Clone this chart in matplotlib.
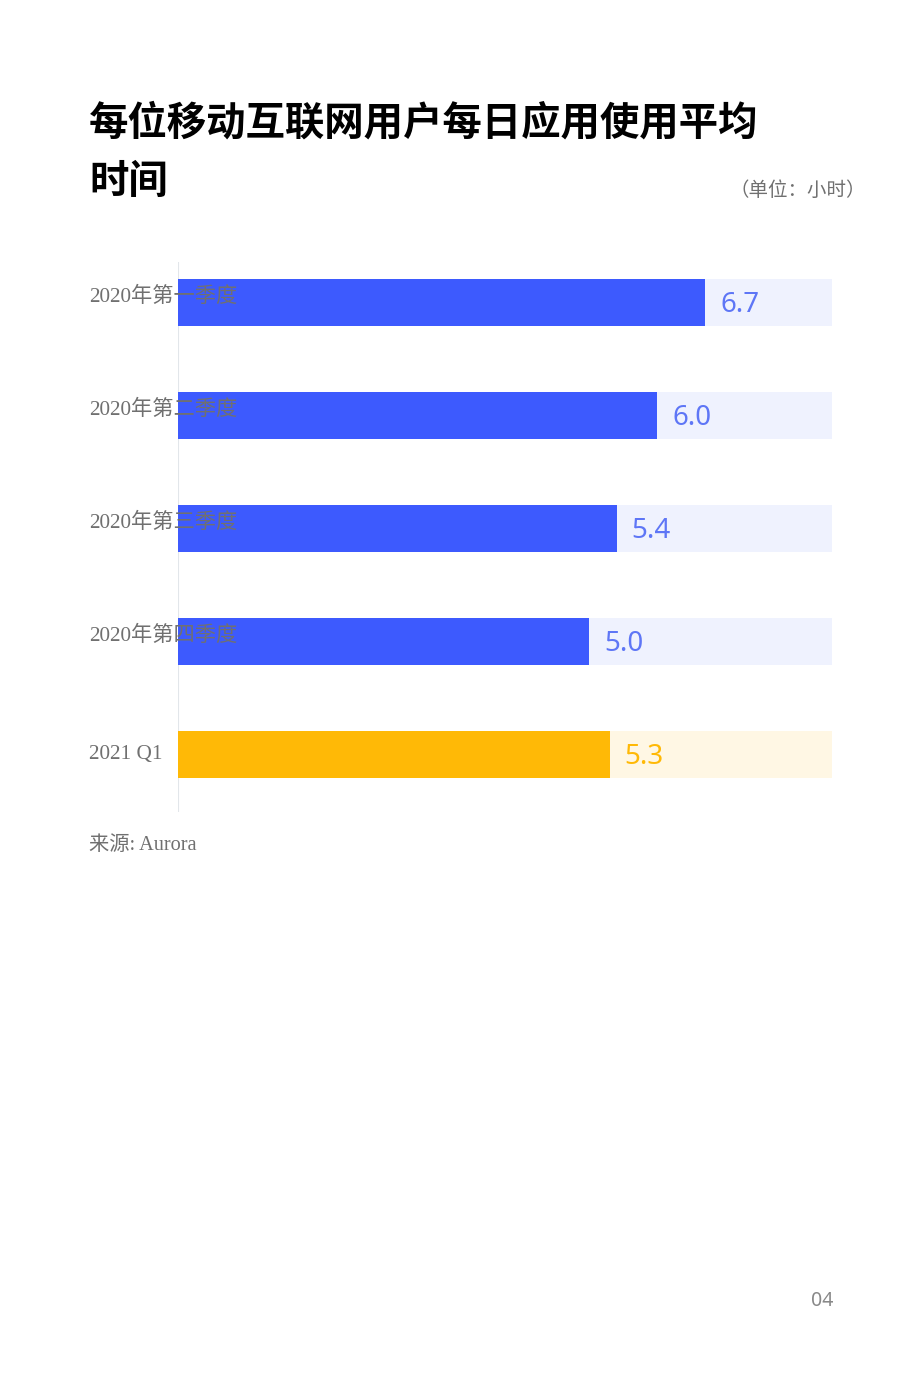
import matplotlib.pyplot as plt
import matplotlib.transforms as mtransforms

plt.rcParams['font.family'] = ['Liberation Serif', 'Noto Sans CJK SC', 'DejaVu Sans']

categories = ['2020年第一季度', '2020年第二季度', '2020年第三季度', '2020年第四季度', '2021 Q1']
values = [6.7, 6.0, 5.4, 5.0, 5.3]
value_labels = ['6.7', '6.0', '5.4', '5.0', '5.3']

blue = '#3D5AFE'
blue_bg = '#EFF2FE'
blue_txt = '#5E76F6'
yellow = '#FFB906'
yellow_bg = '#FFF7E4'
grey = '#707070'

xmin, xmax = -1.03, 8.56

fig = plt.figure(figsize=(9.2, 13.81), dpi=100)
ax = fig.add_axes([0.1935, 0.412, 0.7109, 0.3983])

for i, v in enumerate(values):
    last = (i == len(values) - 1)
    fc = yellow if last else blue
    bg = yellow_bg if last else blue_bg
    tc = yellow if last else blue_txt
    ax.barh(i, xmax - xmin, left=xmin, height=0.416, color=bg, zorder=1)
    ax.barh(i, v - xmin, left=xmin, height=0.416, color=fc, zorder=2)
    ax.text(v + 0.22, i + 0.02, value_labels[i], color=tc, fontsize=20,
            family=['Noto Sans', 'DejaVu Sans'], fontweight='light',
            va='center', ha='left', zorder=3)

trans = mtransforms.blended_transform_factory(ax.transAxes, ax.transData)
for i, c in enumerate(categories):
    dy = 0 if c.isascii() else -0.05
    ax.text(-0.136, i + dy, c, transform=trans, color=grey, fontsize=15.3,
            va='center', ha='left', zorder=4, clip_on=False)

ax.axvline(xmin, color='#E2E6EA', lw=1.5, zorder=0)
ax.set_xlim(xmin, xmax)
ax.set_ylim(4.509, -0.358)
ax.axis('off')

fig.text(89 / 920, 1 - 123 / 1381, '每位移动互联网用户每日应用使用平均',
         fontsize=28.4, fontweight='bold', family=['Noto Sans CJK SC'], va='center', ha='left')
fig.text(89 / 920, 1 - 181 / 1381, '时间',
         fontsize=28.4, fontweight='bold', family=['Noto Sans CJK SC'], va='center', ha='left')
fig.text(866 / 920, 1 - 190 / 1381, '（单位：小时）', fontsize=14, color=grey,
         family=['Noto Sans CJK SC'], va='center', ha='right')
fig.text(89 / 920, 1 - 846 / 1381, '来源: Aurora', fontsize=14.6, color=grey,
         va='center', ha='left')
fig.text(833 / 920, 1 - 1301 / 1381, '04', fontsize=14, color='#888888',
         family=['Noto Sans', 'DejaVu Sans'], va='center', ha='right')

fig.savefig('out.png', dpi=100)
